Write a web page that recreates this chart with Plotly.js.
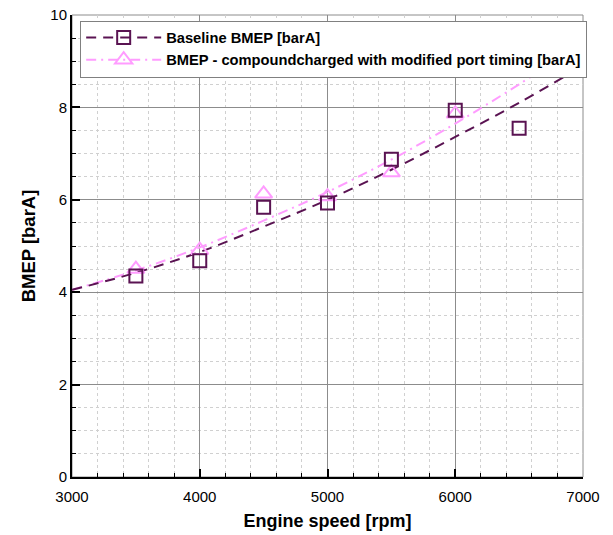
<!DOCTYPE html>
<html>
<head>
<meta charset="utf-8">
<script src="https://cdn.plot.ly/plotly-3.0.1.min.js"></script>
<style>html,body{margin:0;padding:0;background:#fff;}#chart{width:613px;height:535px;}</style>
</head>
<body>
<div id="chart"></div>
<script>
// Measured points
const speed = [3500, 4000, 4500, 5000, 5500, 6000, 6500];
const baselineBMEP = [4.35, 4.68, 5.84, 5.93, 6.88, 7.94, 7.55];
const speedCompound = [3500, 4000, 4500, 5000, 5500, 6000];
const compoundBMEP = [4.50, 4.91, 6.13, 6.07, 6.59, 7.86];
// Trend lines
const fitSpeed = [3000, 3500, 4000, 4500, 5000, 5500, 6000, 6500, 7000];
const baselineFit = [4.05, 4.42, 4.87, 5.42, 6.00, 6.65, 7.36, 8.10, 8.90];
const compoundFit = [4.05, 4.47, 4.97, 5.55, 6.17, 6.87, 7.65, 8.50, 9.40];
const seriesNames = ['Baseline BMEP [barA]', 'BMEP - compoundcharged with modified port timing [barA]'];
const xTicks = [3000, 4000, 5000, 6000, 7000];
const yTicks = [0, 2, 4, 6, 8, 10];

const dark = '#5a1352';
const pink = '#ff9cff';

const traces = [
  {x: fitSpeed, y: compoundFit, mode: 'lines', line: {color: pink, width: 2, dash: '10px,5px,2px,5px', shape: 'spline'}, showlegend: false, hoverinfo: 'skip'},
  {x: fitSpeed, y: baselineFit, mode: 'lines', line: {color: dark, width: 2, dash: '10px,7px', shape: 'spline'}, showlegend: false, hoverinfo: 'skip'},
  {x: speedCompound, y: compoundBMEP, mode: 'markers', marker: {symbol: 'triangle-up-open', size: 15, color: pink, line: {width: 2, color: pink}}, showlegend: false},
  {x: speed, y: baselineBMEP, mode: 'markers', marker: {symbol: 'square-open', size: 13, color: dark, line: {width: 2, color: dark}}, showlegend: false},
  {x: [null], y: [null], name: seriesNames[0], mode: 'lines+markers', line: {color: dark, width: 2, dash: '10px,7px'}, marker: {symbol: 'square-open', size: 13, color: dark, line: {width: 2, color: dark}}},
  {x: [null], y: [null], name: seriesNames[1], mode: 'lines+markers', line: {color: pink, width: 2, dash: '10px,5px,2px,5px'}, marker: {symbol: 'triangle-up-open', size: 15, color: pink, line: {width: 2, color: pink}}}
];

const layout = {
  width: 613, height: 535,
  margin: {l: 72, r: 30, t: 15, b: 58},
  paper_bgcolor: '#fff', plot_bgcolor: '#fff',
  font: {family: 'Arial, "Liberation Sans", sans-serif', color: '#000'},
  showlegend: true,
  legend: {
    x: 0.016, y: 0.988, xanchor: 'left', yanchor: 'top',
    bgcolor: '#fff', bordercolor: '#808080', borderwidth: 1,
    font: {size: 14.7, family: 'Arial, "Liberation Sans", sans-serif', weight: 'bold', color: '#000'},
    tracegroupgap: 0, itemwidth: 75
  },
  xaxis: {
    range: [3000, 7000], tickvals: xTicks, ticktext: xTicks.map(String),
    showline: true, linecolor: '#000', linewidth: 2,
    ticks: 'inside', ticklen: 8, tickwidth: 2, tickcolor: '#000',
    ticklabelstandoff: 5,
    showgrid: true, gridcolor: '#8c8c8c', gridwidth: 1,
    zeroline: false,
    tickfont: {size: 15},
    minor: {dtick: 200, ticks: 'inside', ticklen: 4, tickcolor: '#000', tickwidth: 1, showgrid: true, gridcolor: '#d0d0d0', griddash: 'dot', gridwidth: 1},
    title: {text: 'Engine speed [rpm]', font: {size: 18, weight: 'bold'}, standoff: 10}
  },
  yaxis: {
    range: [0, 10], tickvals: yTicks, ticktext: yTicks.map(String),
    showline: true, linecolor: '#000', linewidth: 2,
    ticks: 'inside', ticklen: 8, tickwidth: 2, tickcolor: '#000',
    showgrid: true, gridcolor: '#8c8c8c', gridwidth: 1,
    zeroline: false,
    tickfont: {size: 15},
    minor: {dtick: 0.5, ticks: 'inside', ticklen: 4, tickcolor: '#000', tickwidth: 1, showgrid: true, gridcolor: '#d0d0d0', griddash: 'dot', gridwidth: 1},
    title: {text: 'BMEP [barA]', font: {size: 18.5, weight: 'bold'}, standoff: 10}
  },
  shapes: [
    {type: 'rect', xref: 'paper', yref: 'paper', x0: 0, x1: 1, y0: 0, y1: 1, line: {color: '#8c8c8c', width: 1}, layer: 'below'}
  ]
};

Plotly.newPlot('chart', traces, layout, {displayModeBar: false, staticPlot: true});
</script>
</body>
</html>
